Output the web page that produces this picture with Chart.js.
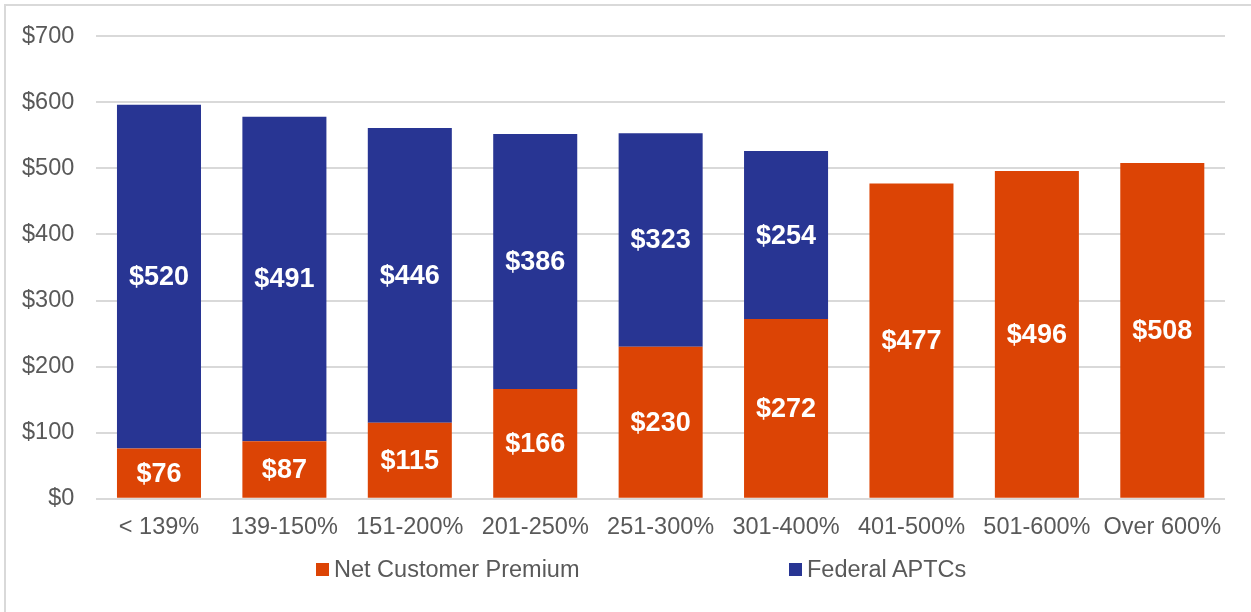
<!DOCTYPE html>
<html>
<head>
<meta charset="utf-8">
<script src="https://cdn.jsdelivr.net/npm/chart.js@4"></script>
<style>
  html, body { margin: 0; padding: 0; background: #fff; }
  #wrap { position: relative; width: 1251px; height: 612px; overflow: hidden; }
  #frame { position: absolute; left: 4px; top: 4px; right: -10px; bottom: -10px;
           border-left: 2px solid #d9d9d9; border-top: 2px solid #d9d9d9; }
  canvas { position: absolute; left: 0; top: 0; }
  .leg { position: absolute; top: 556px; font: 23.5px "Liberation Sans", Arial, sans-serif;
         color: #595959; white-space: nowrap; line-height: 26px; }
  .leg span { display: inline-block; width: 13px; height: 13px; margin-right: 5px; vertical-align: 1px; }
</style>
</head>
<body>
<div id="wrap">
  <div id="frame"></div>
  <canvas id="chart" width="1251" height="612"></canvas>
  <div class="leg" style="left:316px"><span style="background:#dc4405"></span>Net Customer Premium</div>
  <div class="leg" style="left:789px"><span style="background:#283593"></span>Federal APTCs</div>
</div>
<script>
const categories = ['< 139%', '139-150%', '151-200%', '201-250%', '251-300%', '301-400%', '401-500%', '501-600%', 'Over 600%'];
const netPremium = [76, 87, 115, 166, 230, 272, 477, 496, 508];
const federalAPTCs = [520, 491, 446, 386, 323, 254, 0, 0, 0];
const yTicks = [0, 100, 200, 300, 400, 500, 600, 700];

const FONT = '"Liberation Sans", Arial, sans-serif';

// white dollar labels in the middle of each segment
const barLabels = {
    id: 'barLabels',
    afterDatasetsDraw(chart) {
        const ctx = chart.ctx;
        ctx.save();
        ctx.fillStyle = '#ffffff';
        ctx.font = 'bold 27px ' + FONT;
        ctx.textAlign = 'center';
        ctx.textBaseline = 'middle';
        chart.data.datasets.forEach((ds, i) => {
            chart.getDatasetMeta(i).data.forEach((bar, j) => {
                const v = ds.data[j];
                if (!v) return;
                const p = bar.getProps(['x', 'y', 'base'], true);
                ctx.fillText('$' + v, p.x, (p.y + p.base) / 2 + 1);
            });
        });
        ctx.restore();
    }
};

new Chart(document.getElementById('chart'), {
    type: 'bar',
    data: {
        labels: categories,
        datasets: [
            { label: 'Net Customer Premium', data: netPremium, backgroundColor: '#dc4405',
              barPercentage: 0.67, categoryPercentage: 1.0 },
            { label: 'Federal APTCs', data: federalAPTCs, backgroundColor: '#283593',
              barPercentage: 0.67, categoryPercentage: 1.0 }
        ]
    },
    options: {
        responsive: false,
        animation: false,
        layout: { padding: { left: 0, right: 26, top: 17, bottom: 63 } },
        scales: {
            x: {
                stacked: true,
                grid: { display: false },
                border: { display: false },
                ticks: { color: '#595959', font: { family: FONT, size: 23.5 }, padding: 7, maxRotation: 0 }
            },
            y: {
                stacked: true,
                min: 0,
                max: 700,
                afterBuildTicks: axis => { axis.ticks = yTicks.map(v => ({ value: v })); },
                grid: { color: '#d9d9d9', lineWidth: 2, drawTicks: false },
                border: { display: false },
                ticks: { color: '#595959', font: { family: FONT, size: 23.5 }, padding: 22,
                         callback: v => '$' + v }
            }
        },
        plugins: { legend: { display: false }, tooltip: { enabled: false } }
    },
    plugins: [barLabels]
});
</script>
</body>
</html>
